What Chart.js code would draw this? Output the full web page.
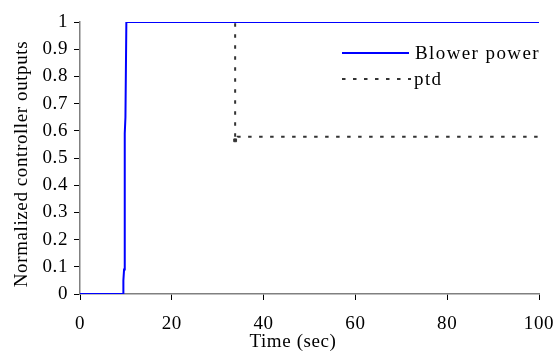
<!DOCTYPE html>
<html>
<head>
<meta charset="utf-8">
<script src="https://cdn.jsdelivr.net/npm/chart.js@4/dist/chart.umd.min.js"></script>
<style>
html,body{margin:0;padding:0;background:#fff;}
#wrap{width:560px;height:354px;}
</style>
</head>
<body>
<div id="wrap"><canvas id="c" width="560" height="354"></canvas></div>
<script>
// Data
const blowerTime  = [0, 9.4, 9.45, 9.6, 9.75, 9.9, 10.1, 100];
const blowerValue = [0, 0,   0.05, 0.09, 0.59, 0.65, 1,   1];
const ptdTime  = [10.1, 33.8, 33.8, 34.0, 34.3, 100];
const ptdValue = [1,    1,    0.565, 0.57, 0.578, 0.578];
const xTicks = [0, 20, 40, 60, 80, 100];
const yTicks = [0, 0.1, 0.2, 0.3, 0.4, 0.5, 0.6, 0.7, 0.8, 0.9, 1];
const seriesNames = ['Blower power', 'ptd'];
const xTitle = 'Time (sec)';
const yTitle = 'Normalized controller outputs';

const FONT = "'Liberation Serif', 'Times New Roman', serif";
const FS = 19;

const spacingPlugin = {
  id: 'spacing',
  beforeUpdate(chart) { chart.ctx.letterSpacing = '0.6px'; },
  beforeLayout(chart) { chart.ctx.letterSpacing = '0.6px'; },
  beforeDraw(chart) { chart.ctx.letterSpacing = '0.6px'; }
};

const textPlugin = {
  id: 'texts',
  afterDraw(chart) {
    const ctx = chart.ctx;
    ctx.save();
    ctx.font = FS + "px " + FONT;
    ctx.fillStyle = '#000';
    ctx.textBaseline = 'middle';
    // x axis title
    ctx.letterSpacing = '0.6px';
    ctx.textAlign = 'center';
    ctx.fillText(xTitle, 293, 342);
    // y axis title
    ctx.save();
    ctx.translate(22, 164);
    ctx.rotate(-Math.PI / 2);
    ctx.fillText(yTitle, 0, 0);
    ctx.restore();
    // legend
    ctx.letterSpacing = '1.4px';
    ctx.textAlign = 'left';
    ctx.strokeStyle = '#0000FF';
    ctx.lineWidth = 2;
    ctx.setLineDash([]);
    ctx.beginPath(); ctx.moveTo(342, 53); ctx.lineTo(409, 53); ctx.stroke();
    ctx.fillText(seriesNames[0], 415, 54);
    ctx.strokeStyle = '#333';
    ctx.setLineDash([3.5, 7.5]);
    ctx.beginPath(); ctx.moveTo(342, 79); ctx.lineTo(411, 79); ctx.stroke();
    ctx.setLineDash([]);
    ctx.fillText(seriesNames[1], 414, 80);
    ctx.restore();
  }
};

new Chart(document.getElementById('c'), {
  type: 'scatter',
  data: {
    datasets: [
      {
        label: seriesNames[0],
        data: blowerTime.map((t, i) => ({x: t, y: blowerValue[i]})),
        showLine: true,
        borderColor: '#0000FF',
        borderWidth: 2,
        pointRadius: 0,
        tension: 0,
        fill: false
      },
      {
        label: seriesNames[1],
        data: ptdTime.map((t, i) => ({x: t, y: ptdValue[i]})),
        showLine: true,
        borderColor: '#333333',
        borderWidth: 2,
        borderDash: [3.5, 7.5],
        pointRadius: ptdTime.map((t, i) => (i === 2 ? 2 : 0)),
        pointStyle: 'rect',
        pointBackgroundColor: '#333333',
        pointBorderColor: '#333333',
        pointBorderWidth: 1,
        tension: 0,
        fill: false
      }
    ]
  },
  options: {
    responsive: false,
    animation: false,
    devicePixelRatio: 1,
    layout: { padding: { top: 22, right: 21, left: 0, bottom: 0 } },
    plugins: { legend: { display: false }, tooltip: { enabled: false } },
    scales: {
      x: {
        type: 'linear',
        min: 0, max: 100,
        afterBuildTicks(scale) { scale.ticks = xTicks.map(v => ({value: v})); },
        afterFit(scale) { scale.height = 60; scale.paddingRight = 0; scale.paddingLeft = 0; },
        border: { color: '#808080', width: 1.5 },
        grid: { drawOnChartArea: false, drawTicks: true, tickLength: 6, color: '#000' },
        ticks: { color: '#000', font: { family: FONT, size: FS }, padding: 13, maxRotation: 0,
                 callback: v => String(v) }
      },
      y: {
        type: 'linear',
        min: 0, max: 1,
        afterBuildTicks(scale) { scale.ticks = yTicks.map(v => ({value: v})); },
        afterFit(scale) { scale.width = 80; scale.paddingTop = 0; scale.paddingBottom = 0; },
        border: { color: '#808080', width: 1.5 },
        grid: { drawOnChartArea: false, drawTicks: true, tickLength: 6, color: '#000' },
        ticks: { color: '#000', font: { family: FONT, size: FS }, padding: 6,
                 callback: v => String(v) }
      }
    }
  },
  plugins: [spacingPlugin, textPlugin]
});
</script>
</body>
</html>
